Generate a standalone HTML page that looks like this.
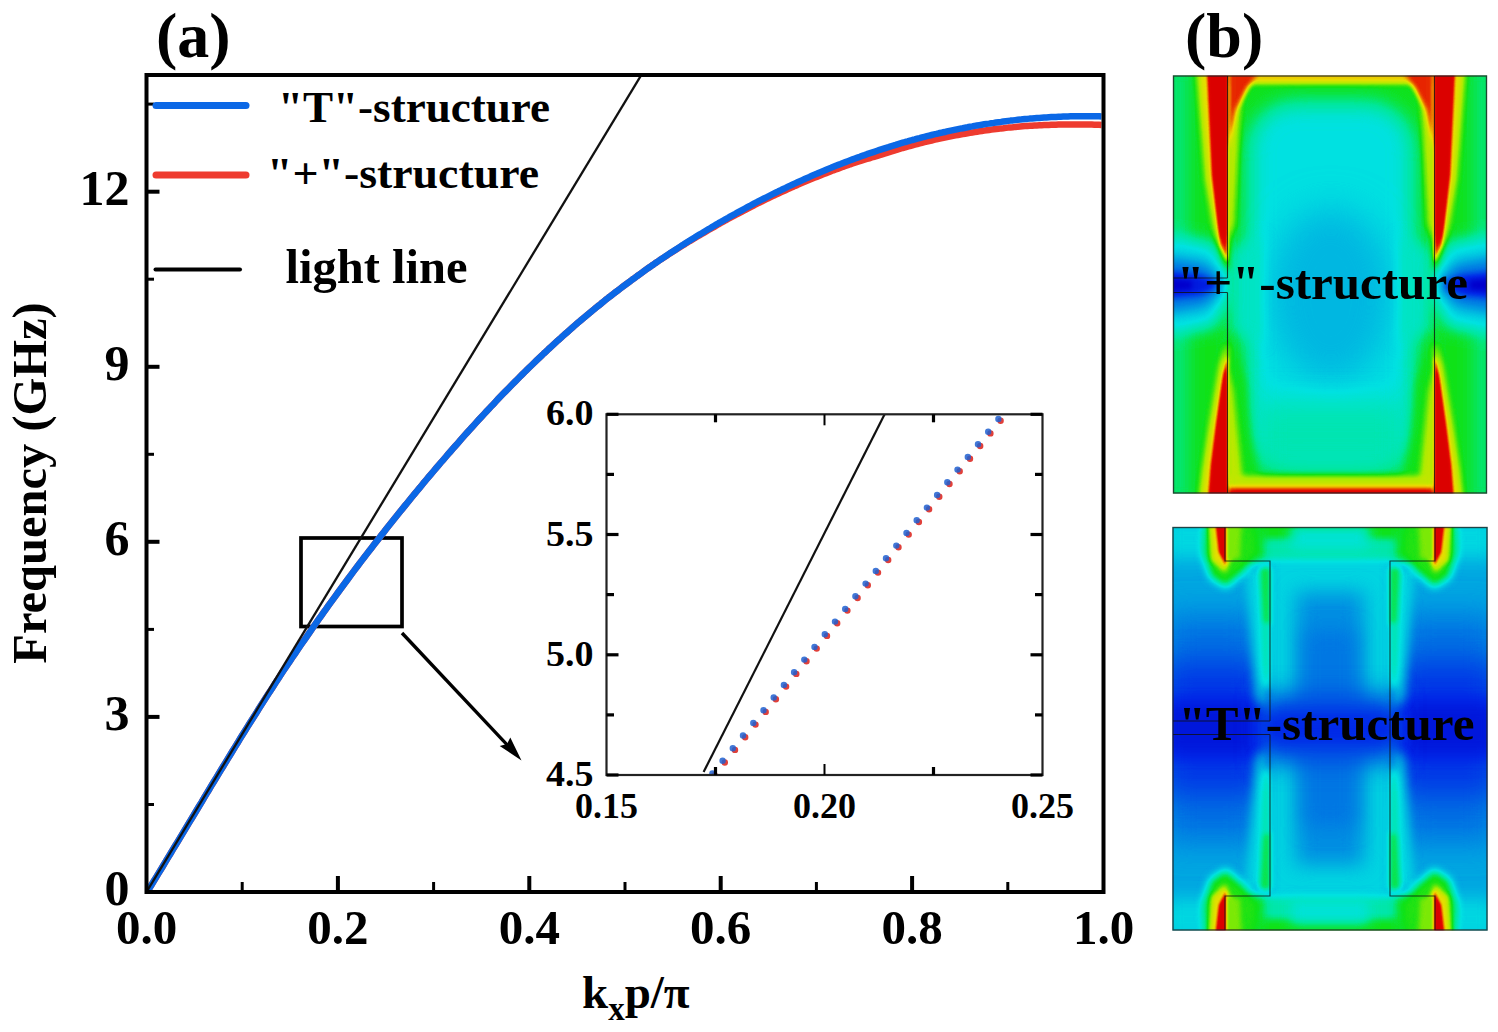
<!DOCTYPE html>
<html><head><meta charset="utf-8"><title>Dispersion curves</title>
<style>
html,body{margin:0;padding:0;background:#fff;}
svg{display:block;}
text{font-family:"Liberation Serif",serif;font-weight:bold;fill:#000;}
</style></head><body>
<svg width="1498" height="1032" viewBox="0 0 1498 1032">
<rect width="1498" height="1032" fill="#fff"/>

<defs>
<filter id="jet" filterUnits="userSpaceOnUse" x="1160" y="60" width="340" height="890" color-interpolation-filters="sRGB">
<feComponentTransfer><feFuncR type="table" tableValues="0.000 0.000 0.000 0.000 0.000 0.000 0.000 0.000 0.000 0.000 0.000 0.000 0.000 0.000 0.000 0.000 0.000 0.000 0.000 0.000 0.018 0.040 0.063 0.214 0.365 0.516 0.667 0.748 0.828 0.909 0.925 0.925 0.925 0.918 0.911 0.903 0.885 0.864 0.843 0.735 0.627"/><feFuncG type="table" tableValues="0.000 0.039 0.078 0.118 0.157 0.216 0.275 0.333 0.392 0.453 0.514 0.575 0.635 0.698 0.761 0.824 0.886 0.894 0.901 0.908 0.903 0.895 0.886 0.896 0.906 0.916 0.925 0.908 0.891 0.874 0.756 0.613 0.471 0.331 0.191 0.051 0.017 0.008 0.000 0.000 0.000"/><feFuncB type="table" tableValues="0.804 0.830 0.857 0.883 0.910 0.906 0.902 0.898 0.894 0.892 0.890 0.888 0.886 0.886 0.886 0.886 0.886 0.793 0.700 0.607 0.445 0.266 0.086 0.065 0.043 0.022 0.000 0.000 0.000 0.000 0.000 0.000 0.000 0.000 0.000 0.000 0.000 0.000 0.000 0.000 0.000"/></feComponentTransfer></filter>
<filter id="b1_5" filterUnits="userSpaceOnUse" x="1100" y="0" width="450" height="1032" color-interpolation-filters="sRGB"><feGaussianBlur stdDeviation="1.5"/></filter><filter id="b2" filterUnits="userSpaceOnUse" x="1100" y="0" width="450" height="1032" color-interpolation-filters="sRGB"><feGaussianBlur stdDeviation="2"/></filter><filter id="b2_5" filterUnits="userSpaceOnUse" x="1100" y="0" width="450" height="1032" color-interpolation-filters="sRGB"><feGaussianBlur stdDeviation="2.5"/></filter><filter id="b3" filterUnits="userSpaceOnUse" x="1100" y="0" width="450" height="1032" color-interpolation-filters="sRGB"><feGaussianBlur stdDeviation="3"/></filter><filter id="b3_5" filterUnits="userSpaceOnUse" x="1100" y="0" width="450" height="1032" color-interpolation-filters="sRGB"><feGaussianBlur stdDeviation="3.5"/></filter><filter id="b4" filterUnits="userSpaceOnUse" x="1100" y="0" width="450" height="1032" color-interpolation-filters="sRGB"><feGaussianBlur stdDeviation="4"/></filter><filter id="b5" filterUnits="userSpaceOnUse" x="1100" y="0" width="450" height="1032" color-interpolation-filters="sRGB"><feGaussianBlur stdDeviation="5"/></filter><filter id="b6" filterUnits="userSpaceOnUse" x="1100" y="0" width="450" height="1032" color-interpolation-filters="sRGB"><feGaussianBlur stdDeviation="6"/></filter><filter id="b7" filterUnits="userSpaceOnUse" x="1100" y="0" width="450" height="1032" color-interpolation-filters="sRGB"><feGaussianBlur stdDeviation="7"/></filter><filter id="b8" filterUnits="userSpaceOnUse" x="1100" y="0" width="450" height="1032" color-interpolation-filters="sRGB"><feGaussianBlur stdDeviation="8"/></filter><filter id="b9" filterUnits="userSpaceOnUse" x="1100" y="0" width="450" height="1032" color-interpolation-filters="sRGB"><feGaussianBlur stdDeviation="9"/></filter><filter id="b10" filterUnits="userSpaceOnUse" x="1100" y="0" width="450" height="1032" color-interpolation-filters="sRGB"><feGaussianBlur stdDeviation="10"/></filter><filter id="b11" filterUnits="userSpaceOnUse" x="1100" y="0" width="450" height="1032" color-interpolation-filters="sRGB"><feGaussianBlur stdDeviation="11"/></filter><filter id="b12" filterUnits="userSpaceOnUse" x="1100" y="0" width="450" height="1032" color-interpolation-filters="sRGB"><feGaussianBlur stdDeviation="12"/></filter><filter id="b14" filterUnits="userSpaceOnUse" x="1100" y="0" width="450" height="1032" color-interpolation-filters="sRGB"><feGaussianBlur stdDeviation="14"/></filter><filter id="b16" filterUnits="userSpaceOnUse" x="1100" y="0" width="450" height="1032" color-interpolation-filters="sRGB"><feGaussianBlur stdDeviation="16"/></filter><filter id="b18" filterUnits="userSpaceOnUse" x="1100" y="0" width="450" height="1032" color-interpolation-filters="sRGB"><feGaussianBlur stdDeviation="18"/></filter>
<clipPath id="h1c"><rect x="1173" y="75.5" width="314" height="418"/></clipPath>
<clipPath id="h2c"><rect x="1172.5" y="527" width="315" height="403.5"/></clipPath>
</defs>
<g clip-path="url(#h1c)"><g filter="url(#jet)"><rect x="1153.0" y="55.5" width="354.0" height="458.0" fill="rgb(140,140,140)"/><path d="M1163.0,65.5 L1190.0,65.5 L1190.0,503.5 L1163.0,503.5 Z" fill="rgb(128,128,128)" filter="url(#b7)"/><path d="M1499.0,65.5 L1472.0,65.5 L1472.0,503.5 L1499.0,503.5 Z" fill="rgb(128,128,128)" filter="url(#b7)"/><rect x="1250.0" y="104.0" width="162.0" height="362.0" fill="rgb(102,102,102)" rx="45" filter="url(#b11)"/><ellipse cx="1331.0" cy="295.0" rx="62.0" ry="88.0" fill="rgb(85,85,85)" filter="url(#b18)"/><rect x="1255.0" y="400.0" width="152.0" height="70.0" fill="rgb(115,115,115)" filter="url(#b14)"/><path d="M1234.0,250.0 L1262.0,235.0 L1262.0,345.0 L1234.0,330.0 Z" fill="rgb(110,110,110)" filter="url(#b7)"/><path d="M1428.0,250.0 L1400.0,235.0 L1400.0,345.0 L1428.0,330.0 Z" fill="rgb(110,110,110)" filter="url(#b7)"/><path d="M1227.5,70.5 L1242.0,70.5 L1238.0,150.0 L1234.0,225.0 L1227.5,240.0 Z" fill="rgb(173,173,173)" filter="url(#b3)"/><path d="M1434.5,70.5 L1420.0,70.5 L1424.0,150.0 L1428.0,225.0 L1434.5,240.0 Z" fill="rgb(173,173,173)" filter="url(#b3)"/><path d="M1227.5,498.5 L1262.0,498.5 L1252.0,440.0 L1246.0,380.0 L1227.5,330.0 Z" fill="rgb(140,140,140)" filter="url(#b5)"/><path d="M1434.5,498.5 L1400.0,498.5 L1410.0,440.0 L1416.0,380.0 L1434.5,330.0 Z" fill="rgb(140,140,140)" filter="url(#b5)"/><path d="M1227.5,498.5 L1244.0,498.5 L1238.0,440.0 L1233.0,390.0 L1227.5,370.0 Z" fill="rgb(173,173,173)" filter="url(#b3)"/><path d="M1434.5,498.5 L1418.0,498.5 L1424.0,440.0 L1429.0,390.0 L1434.5,370.0 Z" fill="rgb(173,173,173)" filter="url(#b3)"/><rect x="1227.5" y="65.5" width="207.0" height="18.0" fill="rgb(189,189,189)" filter="url(#b2_5)"/><path d="M1227.5,65.5 L1262.0,65.5 L1248.0,88.0 L1236.0,110.0 L1227.5,150.0 Z" fill="rgb(219,219,219)" filter="url(#b2_5)"/><path d="M1434.5,65.5 L1400.0,65.5 L1414.0,88.0 L1426.0,110.0 L1434.5,150.0 Z" fill="rgb(219,219,219)" filter="url(#b2_5)"/><rect x="1227.5" y="476.0" width="207.0" height="30.0" fill="rgb(173,173,173)" filter="url(#b3)"/><rect x="1227.5" y="486.0" width="207.0" height="15.0" fill="rgb(204,204,204)" filter="url(#b2)"/><rect x="1227.5" y="489.5" width="207.0" height="10.0" fill="rgb(230,230,230)" filter="url(#b1_5)"/><path d="M1197.0,65.5 L1227.5,65.5 L1227.5,272.0 L1220.0,262.0 L1206.0,180.0 Z" fill="rgb(184,184,184)" filter="url(#b3)"/><path d="M1465.0,65.5 L1434.5,65.5 L1434.5,272.0 L1442.0,262.0 L1456.0,180.0 Z" fill="rgb(184,184,184)" filter="url(#b3)"/><path d="M1207.0,65.5 L1227.5,65.5 L1227.5,262.0 L1220.0,245.0 L1212.0,175.0 Z" fill="rgb(237,237,237)" filter="url(#b1_5)"/><path d="M1455.0,65.5 L1434.5,65.5 L1434.5,262.0 L1442.0,245.0 L1450.0,175.0 Z" fill="rgb(237,237,237)" filter="url(#b1_5)"/><path d="M1199.0,503.5 L1227.5,503.5 L1227.5,342.0 L1220.0,365.0 L1209.0,430.0 L1203.0,470.0 Z" fill="rgb(184,184,184)" filter="url(#b3)"/><path d="M1463.0,503.5 L1434.5,503.5 L1434.5,342.0 L1442.0,365.0 L1453.0,430.0 L1459.0,470.0 Z" fill="rgb(184,184,184)" filter="url(#b3)"/><path d="M1208.0,503.5 L1227.5,503.5 L1227.5,356.0 L1223.0,375.0 L1216.0,425.0 L1211.0,465.0 Z" fill="rgb(237,237,237)" filter="url(#b1_5)"/><path d="M1454.0,503.5 L1434.5,503.5 L1434.5,356.0 L1439.0,375.0 L1446.0,425.0 L1451.0,465.0 Z" fill="rgb(237,237,237)" filter="url(#b1_5)"/><path d="M1163.0,236.0 L1214.0,244.0 L1226.0,268.0 L1226.0,302.0 L1214.0,326.0 L1163.0,334.0 Z" fill="rgb(97,97,97)" filter="url(#b8)"/><path d="M1499.0,236.0 L1448.0,244.0 L1436.0,268.0 L1436.0,302.0 L1448.0,326.0 L1499.0,334.0 Z" fill="rgb(97,97,97)" filter="url(#b8)"/><path d="M1163.0,256.0 L1205.0,263.0 L1222.0,279.0 L1222.0,291.0 L1205.0,307.0 L1163.0,314.0 Z" fill="rgb(61,61,61)" filter="url(#b6)"/><path d="M1499.0,256.0 L1457.0,263.0 L1440.0,279.0 L1440.0,291.0 L1457.0,307.0 L1499.0,314.0 Z" fill="rgb(61,61,61)" filter="url(#b6)"/><path d="M1163.0,271.0 L1200.0,275.0 L1216.0,282.0 L1216.0,288.0 L1200.0,295.0 L1163.0,299.0 Z" fill="rgb(18,18,18)" filter="url(#b3_5)"/><path d="M1499.0,271.0 L1462.0,275.0 L1446.0,282.0 L1446.0,288.0 L1462.0,295.0 L1499.0,299.0 Z" fill="rgb(18,18,18)" filter="url(#b3_5)"/><path d="M1163.0,278.0 L1192.0,281.0 L1192.0,289.0 L1163.0,292.0 Z" fill="rgb(0,0,0)" filter="url(#b2_5)"/><path d="M1499.0,278.0 L1470.0,281.0 L1470.0,289.0 L1499.0,292.0 Z" fill="rgb(0,0,0)" filter="url(#b2_5)"/></g></g>
<g fill="none" stroke="#101010" stroke-width="1.1" stroke-opacity="0.8">
<rect x="1173.5" y="76" width="313" height="417" stroke="#222" stroke-width="1.4"/>
<path d="M1227.5,76 V278 M1227.5,292.5 V493 M1173.5,278 H1227.5 M1173.5,292.5 H1227.5"/>
<path d="M1434.5,76 V493"/>
</g>
<text x="1177" y="298.5" font-size="48" textLength="291" lengthAdjust="spacingAndGlyphs">"+"-structure</text>
<g clip-path="url(#h2c)"><g filter="url(#jet)"><rect x="1152.5" y="507.0" width="355.0" height="443.5" fill="rgb(79,79,79)"/><rect x="1162.5" y="615.0" width="99.5" height="227.0" fill="rgb(56,56,56)" filter="url(#b16)"/><rect x="1162.5" y="662.0" width="99.5" height="133.0" fill="rgb(33,33,33)" filter="url(#b14)"/><rect x="1162.5" y="700.0" width="99.5" height="57.0" fill="rgb(15,15,15)" filter="url(#b9)"/><rect x="1398.0" y="615.0" width="99.5" height="227.0" fill="rgb(56,56,56)" filter="url(#b16)"/><rect x="1398.0" y="662.0" width="99.5" height="133.0" fill="rgb(33,33,33)" filter="url(#b14)"/><rect x="1398.0" y="700.0" width="99.5" height="57.0" fill="rgb(15,15,15)" filter="url(#b9)"/><rect x="1162.5" y="517.0" width="335.0" height="42.0" fill="rgb(98,98,98)" filter="url(#b9)"/><rect x="1162.5" y="898.5" width="335.0" height="42.0" fill="rgb(98,98,98)" filter="url(#b9)"/><rect x="1270.0" y="561.0" width="120.0" height="335.0" fill="rgb(97,97,97)" filter="url(#b5)"/><rect x="1296.0" y="592.0" width="68.0" height="273.0" fill="rgb(69,69,69)" filter="url(#b10)"/><rect x="1304.0" y="630.0" width="52.0" height="197.0" fill="rgb(59,59,59)" filter="url(#b10)"/><path d="M1246.0,570.0 L1270.0,565.0 L1270.0,712.0 L1256.0,700.0 Z" fill="rgb(97,97,97)" filter="url(#b5)"/><path d="M1414.0,570.0 L1390.0,565.0 L1390.0,712.0 L1404.0,700.0 Z" fill="rgb(97,97,97)" filter="url(#b5)"/><path d="M1259.0,572.0 L1270.0,568.0 L1270.0,690.0 L1263.0,685.0 Z" fill="rgb(117,117,117)" filter="url(#b3)"/><path d="M1401.0,572.0 L1390.0,568.0 L1390.0,690.0 L1397.0,685.0 Z" fill="rgb(117,117,117)" filter="url(#b3)"/><path d="M1260.0,568.0 L1270.0,566.0 L1270.0,625.0 L1263.0,622.0 Z" fill="rgb(133,133,133)" filter="url(#b2_5)"/><path d="M1400.0,568.0 L1390.0,566.0 L1390.0,625.0 L1397.0,622.0 Z" fill="rgb(133,133,133)" filter="url(#b2_5)"/><path d="M1246.0,887.0 L1270.0,892.0 L1270.0,745.0 L1256.0,757.0 Z" fill="rgb(97,97,97)" filter="url(#b5)"/><path d="M1414.0,887.0 L1390.0,892.0 L1390.0,745.0 L1404.0,757.0 Z" fill="rgb(97,97,97)" filter="url(#b5)"/><path d="M1259.0,885.0 L1270.0,889.0 L1270.0,767.0 L1263.0,772.0 Z" fill="rgb(117,117,117)" filter="url(#b3)"/><path d="M1401.0,885.0 L1390.0,889.0 L1390.0,767.0 L1397.0,772.0 Z" fill="rgb(117,117,117)" filter="url(#b3)"/><path d="M1260.0,889.0 L1270.0,891.0 L1270.0,832.0 L1263.0,835.0 Z" fill="rgb(133,133,133)" filter="url(#b2_5)"/><path d="M1400.0,889.0 L1390.0,891.0 L1390.0,832.0 L1397.0,835.0 Z" fill="rgb(133,133,133)" filter="url(#b2_5)"/><rect x="1262.0" y="694.0" width="136.0" height="69.0" fill="rgb(41,41,41)" filter="url(#b12)"/><rect x="1262.0" y="712.0" width="136.0" height="33.0" fill="rgb(26,26,26)" filter="url(#b8)"/><rect x="1225.0" y="517.0" width="210.0" height="44.0" fill="rgb(117,117,117)" filter="url(#b4)"/><rect x="1225.0" y="517.0" width="210.0" height="22.0" fill="rgb(140,140,140)" filter="url(#b3_5)"/><rect x="1292.0" y="527.0" width="76.0" height="22.0" fill="rgb(105,105,105)" filter="url(#b6)"/><rect x="1225.0" y="517.0" width="40.0" height="44.0" fill="rgb(138,138,138)" filter="url(#b5)"/><rect x="1395.0" y="517.0" width="40.0" height="44.0" fill="rgb(138,138,138)" filter="url(#b5)"/><rect x="1225.0" y="896.0" width="210.0" height="44.5" fill="rgb(117,117,117)" filter="url(#b4)"/><rect x="1225.0" y="918.5" width="210.0" height="22.0" fill="rgb(140,140,140)" filter="url(#b3_5)"/><rect x="1292.0" y="900.0" width="76.0" height="22.5" fill="rgb(105,105,105)" filter="url(#b6)"/><rect x="1225.0" y="896.0" width="40.0" height="44.5" fill="rgb(138,138,138)" filter="url(#b5)"/><rect x="1395.0" y="896.0" width="40.0" height="44.5" fill="rgb(138,138,138)" filter="url(#b5)"/><path d="M1205.0,517.0 L1252.0,517.0 L1258.0,552.0 L1245.0,572.0 L1226.0,588.0 L1210.0,578.0 L1203.0,555.0 Z" fill="rgb(143,143,143)" filter="url(#b4)"/><path d="M1209.0,517.0 L1232.0,517.0 L1231.0,558.0 L1225.0,572.0 L1212.0,560.0 Z" fill="rgb(184,184,184)" filter="url(#b2_5)"/><path d="M1225.0,517.0 L1242.0,517.0 L1240.0,558.0 L1225.0,562.0 Z" fill="rgb(158,158,158)" filter="url(#b2_5)"/><path d="M1215.0,517.0 L1226.0,517.0 L1226.0,566.0 L1219.0,552.0 Z" fill="rgb(237,237,237)" filter="url(#b1_5)"/><path d="M1455.0,517.0 L1408.0,517.0 L1402.0,552.0 L1415.0,572.0 L1434.0,588.0 L1450.0,578.0 L1457.0,555.0 Z" fill="rgb(143,143,143)" filter="url(#b4)"/><path d="M1451.0,517.0 L1428.0,517.0 L1429.0,558.0 L1435.0,572.0 L1448.0,560.0 Z" fill="rgb(184,184,184)" filter="url(#b2_5)"/><path d="M1435.0,517.0 L1418.0,517.0 L1420.0,558.0 L1435.0,562.0 Z" fill="rgb(158,158,158)" filter="url(#b2_5)"/><path d="M1445.0,517.0 L1434.0,517.0 L1434.0,566.0 L1441.0,552.0 Z" fill="rgb(237,237,237)" filter="url(#b1_5)"/><path d="M1205.0,940.0 L1252.0,940.0 L1258.0,905.0 L1245.0,885.0 L1226.0,869.0 L1210.0,879.0 L1203.0,902.0 Z" fill="rgb(143,143,143)" filter="url(#b4)"/><path d="M1209.0,940.0 L1232.0,940.0 L1231.0,899.0 L1225.0,885.0 L1212.0,897.0 Z" fill="rgb(184,184,184)" filter="url(#b2_5)"/><path d="M1225.0,940.0 L1242.0,940.0 L1240.0,899.0 L1225.0,895.0 Z" fill="rgb(158,158,158)" filter="url(#b2_5)"/><path d="M1215.0,940.0 L1226.0,940.0 L1226.0,891.0 L1219.0,905.0 Z" fill="rgb(237,237,237)" filter="url(#b1_5)"/><path d="M1455.0,940.0 L1408.0,940.0 L1402.0,905.0 L1415.0,885.0 L1434.0,869.0 L1450.0,879.0 L1457.0,902.0 Z" fill="rgb(143,143,143)" filter="url(#b4)"/><path d="M1451.0,940.0 L1428.0,940.0 L1429.0,899.0 L1435.0,885.0 L1448.0,897.0 Z" fill="rgb(184,184,184)" filter="url(#b2_5)"/><path d="M1435.0,940.0 L1418.0,940.0 L1420.0,899.0 L1435.0,895.0 Z" fill="rgb(158,158,158)" filter="url(#b2_5)"/><path d="M1445.0,940.0 L1434.0,940.0 L1434.0,891.0 L1441.0,905.0 Z" fill="rgb(237,237,237)" filter="url(#b1_5)"/></g></g>
<g fill="none" stroke="#101010" stroke-width="1.1" stroke-opacity="0.8">
<rect x="1173" y="527.5" width="314" height="402.5" stroke="#222" stroke-width="1.4"/>
<path d="M1225.0,527.5 V561.0 H1270.0 V721 M1270.0,734.5 V896.0 H1225.0 V930 M1435.0,527.5 V561.0 H1390.0 V896.0 H1435.0 V930 M1173,721 H1270.0 M1173,734.5 H1270.0"/>
</g>
<text x="1178.5" y="740" font-size="48" textLength="296" lengthAdjust="spacingAndGlyphs">"T"-structure</text>
<text x="156" y="57" font-size="64">(a)</text>
<text x="1185" y="57" font-size="64">(b)</text>
<rect x="301" y="538" width="101" height="88.5" fill="none" stroke="#000" stroke-width="3.7"/>
<clipPath id="fr"><rect x="148" y="77" width="954" height="813"/></clipPath>
<g clip-path="url(#fr)">
<path d="M146.5,893.0L148.9,889.1L151.3,885.2L153.7,881.3L156.1,877.3L158.5,873.4L160.9,869.5L163.3,865.5L165.6,861.6L168.0,857.6L170.4,853.7L172.8,849.7L175.2,845.8L177.6,841.8L180.0,837.8L182.4,833.9L184.8,829.9L187.2,825.9L189.6,821.9L192.0,818.0L194.4,814.0L196.8,810.0L199.2,806.0L201.6,802.1L203.9,798.1L206.3,794.1L208.7,790.2L211.1,786.2L213.5,782.3L215.9,778.3L218.3,774.4L220.7,770.4L223.1,766.5L225.5,762.6L227.9,758.6L230.3,754.7L232.7,750.8L235.1,746.9L237.5,743.1L239.8,739.2L242.2,735.3L244.6,731.5L247.0,727.6L249.4,723.8L251.8,720.0L254.2,716.2L256.6,712.4L259.0,708.6L261.4,704.8L263.8,701.1L266.2,697.3L268.6,693.6L271.0,689.9L273.4,686.2L275.7,682.6L278.1,678.9L280.5,675.3L282.9,671.6L285.3,668.0L287.7,664.5L290.1,660.9L292.5,657.3L294.9,653.8L297.3,650.2L299.7,646.7L302.1,643.2L304.5,639.8L306.9,636.3L309.3,632.8L311.7,629.4L314.0,626.0L316.4,622.6L318.8,619.2L321.2,615.8L323.6,612.4L326.0,609.1L328.4,605.7L330.8,602.4L333.2,599.1L335.6,595.8L338.0,592.5L340.4,589.3L342.8,586.0L345.2,582.8L347.6,579.5L349.9,576.3L352.3,573.1L354.7,569.9L357.1,566.7L359.5,563.6L361.9,560.4L364.3,557.3L366.7,554.1L369.1,551.0L371.5,547.9L373.9,544.8L376.3,541.7L378.7,538.7L381.1,535.6L383.5,532.6L385.8,529.5L388.2,526.5L390.6,523.5L393.0,520.5L395.4,517.5L397.8,514.5L400.2,511.5L402.6,508.6L405.0,505.6L407.4,502.7L409.8,499.7L412.2,496.8L414.6,493.9L417.0,491.0L419.4,488.1L421.8,485.2L424.1,482.3L426.5,479.5L428.9,476.6L431.3,473.8L433.7,471.0L436.1,468.1L438.5,465.3L440.9,462.5L443.3,459.8L445.7,457.0L448.1,454.2L450.5,451.5L452.9,448.7L455.3,446.0L457.7,443.3L460.0,440.6L462.4,437.9L464.8,435.2L467.2,432.5L469.6,429.8L472.0,427.2L474.4,424.6L476.8,421.9L479.2,419.3L481.6,416.7L484.0,414.1L486.4,411.5L488.8,409.0L491.2,406.4L493.6,403.9L495.9,401.4L498.3,398.8L500.7,396.3L503.1,393.8L505.5,391.4L507.9,388.9L510.3,386.5L512.7,384.0L515.1,381.6L517.5,379.2L519.9,376.8L522.3,374.4L524.7,372.0L527.1,369.7L529.5,367.3L531.9,365.0L534.2,362.7L536.6,360.4L539.0,358.1L541.4,355.8L543.8,353.5L546.2,351.3L548.6,349.0L551.0,346.8L553.4,344.6L555.8,342.4L558.2,340.2L560.6,338.1L563.0,335.9L565.4,333.8L567.8,331.7L570.1,329.6L572.5,327.5L574.9,325.4L577.3,323.3L579.7,321.3L582.1,319.2L584.5,317.2L586.9,315.2L589.3,313.2L591.7,311.2L594.1,309.3L596.5,307.3L598.9,305.4L601.3,303.4L603.7,301.5L606.0,299.6L608.4,297.7L610.8,295.9L613.2,294.0L615.6,292.1L618.0,290.3L620.4,288.5L622.8,286.7L625.2,284.9L627.6,283.1L630.0,281.3L632.4,279.5L634.8,277.8L637.2,276.0L639.6,274.3L642.0,272.6L644.3,270.9L646.7,269.2L649.1,267.5L651.5,265.8L653.9,264.2L656.3,262.5L658.7,260.9L661.1,259.3L663.5,257.7L665.9,256.2L668.3,254.6L670.7,253.1L673.1,251.5L675.5,250.0L677.9,248.5L680.2,247.0L682.6,245.5L685.0,244.1L687.4,242.6L689.8,241.1L692.2,239.7L694.6,238.3L697.0,236.8L699.4,235.4L701.8,234.0L704.2,232.6L706.6,231.2L709.0,229.8L711.4,228.4L713.8,227.1L716.1,225.7L718.5,224.3L720.9,223.0L723.3,221.7L725.7,220.3L728.1,219.0L730.5,217.7L732.9,216.4L735.3,215.1L737.7,213.9L740.1,212.6L742.5,211.3L744.9,210.1L747.3,208.8L749.7,207.6L752.1,206.4L754.4,205.1L756.8,203.9L759.2,202.7L761.6,201.6L764.0,200.4L766.4,199.2L768.8,198.0L771.2,196.9L773.6,195.7L776.0,194.6L778.4,193.5L780.8,192.4L783.2,191.3L785.6,190.2L788.0,189.1L790.3,188.0L792.7,187.0L795.1,185.9L797.5,184.9L799.9,183.8L802.3,182.8L804.7,181.8L807.1,180.8L809.5,179.8L811.9,178.8L814.3,177.8L816.7,176.9L819.1,175.9L821.5,174.9L823.9,174.0L826.2,173.1L828.6,172.2L831.0,171.2L833.4,170.3L835.8,169.5L838.2,168.6L840.6,167.7L843.0,166.8L845.4,166.0L847.8,165.2L850.2,164.3L852.6,163.5L855.0,162.7L857.4,161.9L859.8,161.2L862.2,160.4L864.5,159.7L866.9,159.0L869.3,158.3L871.7,157.5L874.1,156.8L876.5,156.1L878.9,155.3L881.3,154.6L883.7,153.8L886.1,153.1L888.5,152.3L890.9,151.6L893.3,150.9L895.7,150.2L898.1,149.4L900.4,148.7L902.8,148.0L905.2,147.4L907.6,146.7L910.0,146.0L912.4,145.4L914.8,144.7L917.2,144.1L919.6,143.4L922.0,142.8L924.4,142.2L926.8,141.6L929.2,141.0L931.6,140.5L934.0,139.9L936.3,139.4L938.7,138.8L941.1,138.3L943.5,137.8L945.9,137.3L948.3,136.8L950.7,136.4L953.1,135.9L955.5,135.4L957.9,135.0L960.3,134.5L962.7,134.1L965.1,133.7L967.5,133.3L969.9,132.9L972.3,132.5L974.6,132.1L977.0,131.7L979.4,131.3L981.8,131.0L984.2,130.6L986.6,130.3L989.0,130.0L991.4,129.6L993.8,129.3L996.2,129.0L998.6,128.7L1001.0,128.4L1003.4,128.2L1005.8,127.9L1008.2,127.6L1010.5,127.4L1012.9,127.2L1015.3,126.9L1017.7,126.7L1020.1,126.5L1022.5,126.3L1024.9,126.1L1027.3,126.0L1029.7,125.8L1032.1,125.7L1034.5,125.5L1036.9,125.4L1039.3,125.3L1041.7,125.2L1044.1,125.1L1046.4,125.0L1048.8,124.9L1051.2,124.8L1053.6,124.8L1056.0,124.7L1058.4,124.6L1060.8,124.6L1063.2,124.5L1065.6,124.5L1068.0,124.5L1070.4,124.5L1072.8,124.4L1075.2,124.4L1077.6,124.4L1080.0,124.4L1082.4,124.5L1084.7,124.5L1087.1,124.5L1089.5,124.6L1091.9,124.6L1094.3,124.7L1096.7,124.7L1099.1,124.8L1101.5,124.9" fill="none" stroke="#EE3B2F" stroke-width="6.5" stroke-linejoin="round"/>
<path d="M146.5,893.0L148.9,889.1L151.3,885.2L153.7,881.3L156.1,877.3L158.5,873.4L160.9,869.5L163.3,865.5L165.6,861.6L168.0,857.6L170.4,853.7L172.8,849.7L175.2,845.8L177.6,841.8L180.0,837.8L182.4,833.9L184.8,829.9L187.2,825.9L189.6,821.9L192.0,818.0L194.4,814.0L196.8,810.0L199.2,806.0L201.6,802.1L203.9,798.1L206.3,794.1L208.7,790.2L211.1,786.2L213.5,782.3L215.9,778.3L218.3,774.4L220.7,770.4L223.1,766.5L225.5,762.6L227.9,758.6L230.3,754.7L232.7,750.8L235.1,746.9L237.5,743.1L239.8,739.2L242.2,735.3L244.6,731.5L247.0,727.6L249.4,723.8L251.8,720.0L254.2,716.2L256.6,712.4L259.0,708.6L261.4,704.8L263.8,701.1L266.2,697.3L268.6,693.6L271.0,689.9L273.4,686.2L275.7,682.6L278.1,678.9L280.5,675.3L282.9,671.6L285.3,668.0L287.7,664.5L290.1,660.9L292.5,657.3L294.9,653.8L297.3,650.2L299.7,646.7L302.1,643.2L304.5,639.8L306.9,636.3L309.3,632.8L311.7,629.4L314.0,626.0L316.4,622.6L318.8,619.2L321.2,615.8L323.6,612.4L326.0,609.1L328.4,605.7L330.8,602.4L333.2,599.1L335.6,595.8L338.0,592.5L340.4,589.3L342.8,586.0L345.2,582.8L347.6,579.5L349.9,576.3L352.3,573.1L354.7,569.9L357.1,566.7L359.5,563.6L361.9,560.4L364.3,557.3L366.7,554.1L369.1,551.0L371.5,547.9L373.9,544.8L376.3,541.7L378.7,538.7L381.1,535.6L383.5,532.6L385.8,529.5L388.2,526.5L390.6,523.5L393.0,520.5L395.4,517.5L397.8,514.5L400.2,511.5L402.6,508.6L405.0,505.6L407.4,502.7L409.8,499.7L412.2,496.8L414.6,493.9L417.0,491.0L419.4,488.1L421.8,485.2L424.1,482.3L426.5,479.5L428.9,476.6L431.3,473.8L433.7,471.0L436.1,468.1L438.5,465.3L440.9,462.5L443.3,459.8L445.7,457.0L448.1,454.2L450.5,451.5L452.9,448.7L455.3,446.0L457.7,443.3L460.0,440.6L462.4,437.9L464.8,435.2L467.2,432.5L469.6,429.8L472.0,427.2L474.4,424.6L476.8,421.9L479.2,419.3L481.6,416.7L484.0,414.1L486.4,411.5L488.8,409.0L491.2,406.4L493.6,403.9L495.9,401.4L498.3,398.8L500.7,396.3L503.1,393.8L505.5,391.4L507.9,388.9L510.3,386.5L512.7,384.0L515.1,381.6L517.5,379.2L519.9,376.8L522.3,374.4L524.7,372.0L527.1,369.7L529.5,367.3L531.9,365.0L534.2,362.7L536.6,360.4L539.0,358.1L541.4,355.8L543.8,353.5L546.2,351.3L548.6,349.0L551.0,346.8L553.4,344.6L555.8,342.4L558.2,340.2L560.6,338.1L563.0,335.9L565.4,333.8L567.8,331.7L570.1,329.6L572.5,327.5L574.9,325.4L577.3,323.3L579.7,321.3L582.1,319.2L584.5,317.2L586.9,315.2L589.3,313.2L591.7,311.2L594.1,309.3L596.5,307.3L598.9,305.4L601.3,303.4L603.7,301.5L606.0,299.6L608.4,297.7L610.8,295.9L613.2,294.0L615.6,292.1L618.0,290.3L620.4,288.5L622.8,286.7L625.2,284.9L627.6,283.1L630.0,281.3L632.4,279.5L634.8,277.8L637.2,276.0L639.6,274.3L642.0,272.6L644.3,270.9L646.7,269.2L649.1,267.5L651.5,265.8L653.9,264.2L656.3,262.5L658.7,260.9L661.1,259.2L663.5,257.6L665.9,256.0L668.3,254.4L670.7,252.8L673.1,251.3L675.5,249.7L677.9,248.1L680.2,246.6L682.6,245.1L685.0,243.5L687.4,242.0L689.8,240.5L692.2,239.0L694.6,237.6L697.0,236.1L699.4,234.6L701.8,233.2L704.2,231.7L706.6,230.3L709.0,228.9L711.4,227.4L713.8,226.0L716.1,224.6L718.5,223.2L720.9,221.9L723.3,220.5L725.7,219.1L728.1,217.8L730.5,216.4L732.9,215.1L735.3,213.8L737.7,212.4L740.1,211.1L742.5,209.8L744.9,208.5L747.3,207.2L749.7,206.0L752.1,204.7L754.4,203.4L756.8,202.2L759.2,200.9L761.6,199.7L764.0,198.5L766.4,197.3L768.8,196.1L771.2,194.9L773.6,193.7L776.0,192.5L778.4,191.3L780.8,190.2L783.2,189.0L785.6,187.9L788.0,186.7L790.3,185.6L792.7,184.5L795.1,183.4L797.5,182.3L799.9,181.2L802.3,180.1L804.7,179.0L807.1,177.9L809.5,176.9L811.9,175.8L814.3,174.8L816.7,173.8L819.1,172.7L821.5,171.7L823.9,170.7L826.2,169.7L828.6,168.7L831.0,167.8L833.4,166.8L835.8,165.8L838.2,164.9L840.6,164.0L843.0,163.0L845.4,162.1L847.8,161.2L850.2,160.3L852.6,159.4L855.0,158.5L857.4,157.6L859.8,156.8L862.2,155.9L864.5,155.1L866.9,154.2L869.3,153.4L871.7,152.6L874.1,151.8L876.5,151.0L878.9,150.2L881.3,149.4L883.7,148.6L886.1,147.8L888.5,147.1L890.9,146.3L893.3,145.6L895.7,144.9L898.1,144.1L900.4,143.4L902.8,142.7L905.2,142.0L907.6,141.4L910.0,140.7L912.4,140.0L914.8,139.4L917.2,138.7L919.6,138.1L922.0,137.4L924.4,136.8L926.8,136.2L929.2,135.6L931.6,135.0L934.0,134.4L936.3,133.9L938.7,133.3L941.1,132.8L943.5,132.2L945.9,131.7L948.3,131.1L950.7,130.6L953.1,130.1L955.5,129.6L957.9,129.1L960.3,128.6L962.7,128.2L965.1,127.7L967.5,127.3L969.9,126.8L972.3,126.4L974.6,125.9L977.0,125.5L979.4,125.1L981.8,124.7L984.2,124.3L986.6,123.9L989.0,123.6L991.4,123.2L993.8,122.9L996.2,122.5L998.6,122.2L1001.0,121.9L1003.4,121.5L1005.8,121.2L1008.2,120.9L1010.5,120.6L1012.9,120.4L1015.3,120.1L1017.7,119.8L1020.1,119.6L1022.5,119.3L1024.9,119.1L1027.3,118.9L1029.7,118.6L1032.1,118.4L1034.5,118.2L1036.9,118.0L1039.3,117.9L1041.7,117.7L1044.1,117.5L1046.4,117.4L1048.8,117.2L1051.2,117.1L1053.6,117.0L1056.0,116.9L1058.4,116.8L1060.8,116.7L1063.2,116.6L1065.6,116.5L1068.0,116.4L1070.4,116.3L1072.8,116.3L1075.2,116.3L1077.6,116.2L1080.0,116.2L1082.4,116.2L1084.7,116.2L1087.1,116.2L1089.5,116.2L1091.9,116.2L1094.3,116.2L1096.7,116.3L1099.1,116.3L1101.5,116.4" fill="none" stroke="#0B68E6" stroke-width="6.5" stroke-linejoin="round"/>
<line x1="146.5" y1="892" x2="641.3" y2="75" stroke="#111" stroke-width="2.3"/>
</g>
<rect x="146.5" y="75" width="957" height="817" fill="none" stroke="#000" stroke-width="4"/>
<line x1="242.2" y1="890" x2="242.2" y2="882" stroke="#000" stroke-width="3"/>
<line x1="337.9" y1="890" x2="337.9" y2="876" stroke="#000" stroke-width="4"/>
<line x1="433.6" y1="890" x2="433.6" y2="882" stroke="#000" stroke-width="3"/>
<line x1="529.3" y1="890" x2="529.3" y2="876" stroke="#000" stroke-width="4"/>
<line x1="625.0" y1="890" x2="625.0" y2="882" stroke="#000" stroke-width="3"/>
<line x1="720.7" y1="890" x2="720.7" y2="876" stroke="#000" stroke-width="4"/>
<line x1="816.4" y1="890" x2="816.4" y2="882" stroke="#000" stroke-width="3"/>
<line x1="912.1" y1="890" x2="912.1" y2="876" stroke="#000" stroke-width="4"/>
<line x1="1007.8" y1="890" x2="1007.8" y2="882" stroke="#000" stroke-width="3"/>
<line x1="148" y1="804.5" x2="154" y2="804.5" stroke="#000" stroke-width="3"/>
<line x1="148" y1="716.9" x2="159.5" y2="716.9" stroke="#000" stroke-width="4"/>
<line x1="148" y1="629.4" x2="154" y2="629.4" stroke="#000" stroke-width="3"/>
<line x1="148" y1="541.8" x2="159.5" y2="541.8" stroke="#000" stroke-width="4"/>
<line x1="148" y1="454.3" x2="154" y2="454.3" stroke="#000" stroke-width="3"/>
<line x1="148" y1="366.8" x2="159.5" y2="366.8" stroke="#000" stroke-width="4"/>
<line x1="148" y1="279.2" x2="154" y2="279.2" stroke="#000" stroke-width="3"/>
<line x1="148" y1="191.7" x2="159.5" y2="191.7" stroke="#000" stroke-width="4"/>
<line x1="148" y1="104.1" x2="154" y2="104.1" stroke="#000" stroke-width="3"/>
<text x="129.5" y="905.3" font-size="50" text-anchor="end">0</text>
<text x="129.5" y="730.2" font-size="50" text-anchor="end">3</text>
<text x="129.5" y="555.1" font-size="50" text-anchor="end">6</text>
<text x="129.5" y="380.1" font-size="50" text-anchor="end">9</text>
<text x="129.5" y="205.0" font-size="50" text-anchor="end">12</text>
<text x="146.5" y="944" font-size="49" text-anchor="middle">0.0</text>
<text x="337.9" y="944" font-size="49" text-anchor="middle">0.2</text>
<text x="529.3" y="944" font-size="49" text-anchor="middle">0.4</text>
<text x="720.7" y="944" font-size="49" text-anchor="middle">0.6</text>
<text x="912.1" y="944" font-size="49" text-anchor="middle">0.8</text>
<text x="1103.5" y="944" font-size="49" text-anchor="middle">1.0</text>
<text x="582" y="1008" font-size="47">k<tspan font-size="33" dy="12">x</tspan><tspan dy="-12">p/π</tspan></text>
<text transform="translate(45.5,483) rotate(-90)" font-size="48.5" text-anchor="middle">Frequency (GHz)</text>
<line x1="156" y1="105.4" x2="246" y2="105.4" stroke="#0B68E6" stroke-width="7" stroke-linecap="round"/>
<line x1="156" y1="175" x2="246" y2="175" stroke="#EE3B2F" stroke-width="7" stroke-linecap="round"/>
<line x1="155.5" y1="269.5" x2="240" y2="269.5" stroke="#000" stroke-width="4" stroke-linecap="round"/>
<text x="278" y="121.5" font-size="44" textLength="272" lengthAdjust="spacingAndGlyphs">"T"-structure</text>
<text x="267" y="188" font-size="44" textLength="272" lengthAdjust="spacingAndGlyphs">"+"-structure</text>
<text x="285.5" y="283" font-size="48" textLength="182" lengthAdjust="spacingAndGlyphs">light line</text>
<line x1="402" y1="633" x2="512" y2="750" stroke="#000" stroke-width="3.4"/>
<path d="M521.5,760.6 L499.7,745.9 L507,744 L510.3,737.5 Z" fill="#000"/>
<rect x="606.5" y="414.3" width="436.0" height="360.7" fill="#fff" stroke="none"/>
<clipPath id="ic"><rect x="606.5" y="414.3" width="436.0" height="360.7"/></clipPath>
<g clip-path="url(#ic)">
<line x1="703.6" y1="772" x2="884.5" y2="414.5" stroke="#111" stroke-width="2.2"/>
<path d="M714.6,775.2h0.01M724.8,762.5h0.01M735.0,749.9h0.01M745.2,737.2h0.01M755.5,724.6h0.01M765.7,711.9h0.01M775.9,699.2h0.01M786.1,686.6h0.01M796.3,673.9h0.01M806.5,661.3h0.01M816.7,648.6h0.01M827.0,635.9h0.01M837.2,623.3h0.01M847.4,610.6h0.01M857.6,598.0h0.01M867.8,585.3h0.01M878.0,572.6h0.01M888.2,560.0h0.01M898.5,547.3h0.01M908.7,534.6h0.01M918.9,522.0h0.01M929.1,509.3h0.01M939.3,496.7h0.01M949.5,484.0h0.01M959.7,471.3h0.01M970.0,458.7h0.01M980.2,446.0h0.01M990.4,433.4h0.01M1000.6,420.7h0.01" stroke="#E0403A" stroke-width="6.4" stroke-linecap="round" fill="none"/>
<path d="M712.4,773.5h0.01M722.6,760.8h0.01M732.8,748.2h0.01M743.0,735.5h0.01M753.3,722.9h0.01M763.5,710.2h0.01M773.7,697.5h0.01M783.9,684.9h0.01M794.1,672.2h0.01M804.3,659.6h0.01M814.5,646.9h0.01M824.8,634.2h0.01M835.0,621.6h0.01M845.2,608.9h0.01M855.4,596.2h0.01M865.6,583.6h0.01M875.8,570.9h0.01M886.0,558.3h0.01M896.3,545.6h0.01M906.5,532.9h0.01M916.7,520.3h0.01M926.9,507.6h0.01M937.1,495.0h0.01M947.3,482.3h0.01M957.5,469.6h0.01M967.8,457.0h0.01M978.0,444.3h0.01M988.2,431.7h0.01M998.4,419.0h0.01" stroke="#2060D0" stroke-width="6.4" stroke-linecap="round" fill="none" opacity="0.85"/>
</g>
<rect x="606.5" y="414.3" width="436.0" height="360.7" fill="none" stroke="#222" stroke-width="2.2"/>
<line x1="606.5" y1="775.0" x2="618.5" y2="775.0" stroke="#000" stroke-width="3.2"/>
<line x1="1042.5" y1="775.0" x2="1030.5" y2="775.0" stroke="#000" stroke-width="3.2"/>
<line x1="606.5" y1="714.9" x2="614.0" y2="714.9" stroke="#000" stroke-width="3.2"/>
<line x1="1042.5" y1="714.9" x2="1035.0" y2="714.9" stroke="#000" stroke-width="3.2"/>
<line x1="606.5" y1="654.8" x2="618.5" y2="654.8" stroke="#000" stroke-width="3.2"/>
<line x1="1042.5" y1="654.8" x2="1030.5" y2="654.8" stroke="#000" stroke-width="3.2"/>
<line x1="606.5" y1="594.6" x2="614.0" y2="594.6" stroke="#000" stroke-width="3.2"/>
<line x1="1042.5" y1="594.6" x2="1035.0" y2="594.6" stroke="#000" stroke-width="3.2"/>
<line x1="606.5" y1="534.5" x2="618.5" y2="534.5" stroke="#000" stroke-width="3.2"/>
<line x1="1042.5" y1="534.5" x2="1030.5" y2="534.5" stroke="#000" stroke-width="3.2"/>
<line x1="606.5" y1="474.4" x2="614.0" y2="474.4" stroke="#000" stroke-width="3.2"/>
<line x1="1042.5" y1="474.4" x2="1035.0" y2="474.4" stroke="#000" stroke-width="3.2"/>
<line x1="606.5" y1="414.3" x2="618.5" y2="414.3" stroke="#000" stroke-width="3.2"/>
<line x1="1042.5" y1="414.3" x2="1030.5" y2="414.3" stroke="#000" stroke-width="3.2"/>
<line x1="715.5" y1="775.0" x2="715.5" y2="767.0" stroke="#000" stroke-width="3.2"/>
<line x1="715.5" y1="414.3" x2="715.5" y2="422.3" stroke="#000" stroke-width="3.2"/>
<line x1="824.5" y1="775.0" x2="824.5" y2="764.0" stroke="#000" stroke-width="2"/>
<line x1="824.5" y1="414.3" x2="824.5" y2="425.3" stroke="#000" stroke-width="2"/>
<line x1="933.5" y1="775.0" x2="933.5" y2="767.0" stroke="#000" stroke-width="3.2"/>
<line x1="933.5" y1="414.3" x2="933.5" y2="422.3" stroke="#000" stroke-width="3.2"/>
<text x="593.5" y="425.3" font-size="36" text-anchor="end" textLength="47.5" lengthAdjust="spacingAndGlyphs">6.0</text>
<text x="593.5" y="545.5" font-size="36" text-anchor="end" textLength="47.5" lengthAdjust="spacingAndGlyphs">5.5</text>
<text x="593.5" y="665.8" font-size="36" text-anchor="end" textLength="47.5" lengthAdjust="spacingAndGlyphs">5.0</text>
<text x="593.5" y="786.0" font-size="36" text-anchor="end" textLength="47.5" lengthAdjust="spacingAndGlyphs">4.5</text>
<text x="606.5" y="817.5" font-size="36" text-anchor="middle">0.15</text>
<text x="824.5" y="817.5" font-size="36" text-anchor="middle">0.20</text>
<text x="1042.5" y="817.5" font-size="36" text-anchor="middle">0.25</text>
</svg>
</body></html>
